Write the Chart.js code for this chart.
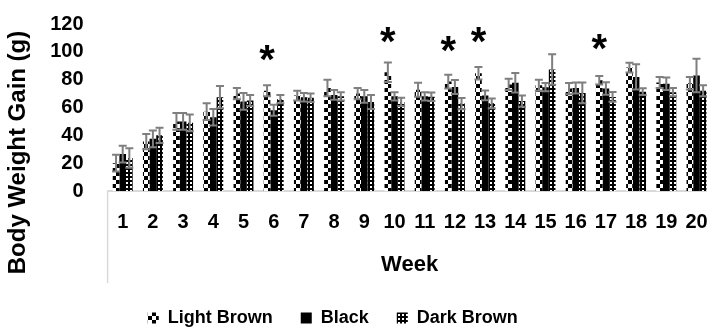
<!DOCTYPE html>
<html><head><meta charset="utf-8">
<script src="https://cdn.jsdelivr.net/npm/chart.js@4.4.1/dist/chart.umd.min.js"></script>
<style>
html,body{margin:0;padding:0;background:#fff;overflow:hidden}
#wrap{width:707px;height:329px;overflow:hidden;position:relative;background:#fff}
canvas{display:block}
</style>
</head><body>
<div id="wrap"><canvas id="c" width="720" height="329"></canvas></div>
<script>
// ---- data ----
const weeks = ['1','2','3','4','5','6','7','8','9','10','11','12','13','14','15','16','17','18','19','20'];
const seriesNames = ['Light Brown','Black','Dark Brown'];
const lightBrown    = [20, 35.5, 50, 57, 70, 72, 68.6, 74, 70, 85.4, 72.7, 78.6, 84.6, 76.6, 76, 73.6, 79.6, 88.7, 78, 77.4];
const lightBrownErr = [6, 5.5, 6, 6, 4, 4, 3.5, 6, 4, 7, 5, 5, 4.5, 4, 4, 4, 3, 3.5, 4, 4.5];
const black         = [26.5, 37.5, 50, 53, 64.4, 58, 67.4, 69, 68, 68, 68, 74.7, 68.7, 77.8, 74.6, 74, 73.6, 82, 77, 83];
const blackErr      = [6, 6, 6, 6, 6, 4, 3, 3.5, 4.5, 3, 3, 5, 3.5, 7, 3, 4, 4.5, 9, 4.5, 12];
const darkBrown     = [23.7, 40, 49, 67.4, 65, 66, 67, 68, 64, 64, 67.7, 62.8, 63, 64.6, 87.3, 70.5, 67.6, 71.4, 71, 72];
const darkBrownErr  = [7, 5.5, 6, 8, 4, 3, 3, 3, 5, 3, 3, 4, 3.5, 4, 11, 7.5, 3.5, 2.5, 3, 4];
// significance asterisks (value level where the * sits, over Light Brown bar)
const sigMarks = [null,null,null,null,null,99.5,null,null,null,113,null,106,113,null,null,null,107.5,null,null,null];
const yTicks = [0,20,40,60,80,100,120];

// ---- patterns ----
function lbPattern(){
  const c=document.createElement('canvas'); c.width=8; c.height=8;
  const g=c.getContext('2d'); g.fillStyle='#fff'; g.fillRect(0,0,8,8);
  g.fillStyle='#000'; g.fillRect(0,0,4,4); g.fillRect(4,4,4,4);
  return g.createPattern(c,'repeat');
}
function dbPattern(){
  const c=document.createElement('canvas'); c.width=4; c.height=4;
  const g=c.getContext('2d'); g.fillStyle='#000'; g.fillRect(0,0,4,4);
  g.fillStyle='#fff'; g.fillRect(2,2,2,2);
  return g.createPattern(c,'repeat');
}

const FONT = 'Liberation Sans';
Chart.defaults.font.family = FONT;
Chart.defaults.color = '#000';

const errorBars = {
  id:'errorBars',
  afterDatasetsDraw(chart, args, opts){
    const ctx=chart.ctx, ys=chart.scales.y;
    ctx.save();
    ctx.strokeStyle=opts.color; ctx.lineWidth=opts.width;
    chart.data.datasets.forEach((ds,di)=>{
      const meta=chart.getDatasetMeta(di);
      if(meta.hidden) return;
      meta.data.forEach((bar,i)=>{
        const v=ds.data[i], e=ds.errors[i];
        const t=ys.getPixelForValue(v+e), b=ys.getPixelForValue(v-e);
        const h=opts.cap/2;
        ctx.beginPath();
        ctx.moveTo(bar.x,t); ctx.lineTo(bar.x,b);
        ctx.moveTo(bar.x-h,t); ctx.lineTo(bar.x+h,t);
        ctx.moveTo(bar.x-h,b); ctx.lineTo(bar.x+h,b);
        ctx.stroke();
      });
    });
    ctx.restore();
  }
};

const asterisks = {
  id:'asterisks',
  afterDatasetsDraw(chart, args, opts){
    const ctx=chart.ctx, ys=chart.scales.y, meta=chart.getDatasetMeta(0);
    ctx.save();
    ctx.fillStyle='#000'; ctx.font='bold '+opts.size+'px '+FONT;
    ctx.textAlign='center'; ctx.textBaseline='alphabetic';
    sigMarks.forEach((m,i)=>{
      if(m==null) return;
      const x=meta.data[i].x, y=ys.getPixelForValue(m);
      ctx.fillText('*', x, y+opts.size*0.52);
    });
    ctx.restore();
  }
};

const legendFit = {
  id:'legendFit',
  beforeLayout(chart, args, opts){
    const lg=chart.legend;
    if(lg && !lg._fitPatched){
      const orig=lg.fit;
      lg.fit=function(){ orig.call(this); this.height=opts.height; };
      lg._fitPatched=true;
    }
  },
  afterLayout(chart, args, opts){
    const lg=chart.legend;
    if(lg){ lg.left += opts.shiftLeft; }
  }
};

const decor = {
  id:'decor',
  afterDraw(chart, args, opts){
    const ctx=chart.ctx, a=chart.chartArea, xs=chart.scales.x;
    ctx.save();
    ctx.strokeStyle='#d9d9d9'; ctx.lineWidth=1.5;
    ctx.beginPath(); ctx.moveTo(a.left, a.bottom); ctx.lineTo(a.left, xs.bottom+2); ctx.stroke();
    ctx.translate(opts.titleX, (a.top + xs.bottom)/2);
    ctx.rotate(-Math.PI/2);
    ctx.fillStyle='#000'; ctx.font='bold '+opts.titleSize+'px '+FONT;
    ctx.textAlign='center'; ctx.textBaseline='middle';
    ctx.fillText('Body Weight Gain (g)', 0, 0);
    ctx.restore();
  }
};

new Chart(document.getElementById('c'), {
  type:'bar',
  data:{
    labels:weeks,
    datasets:[
      {label:seriesNames[0], data:lightBrown, errors:lightBrownErr, backgroundColor:lbPattern(), borderWidth:0},
      {label:seriesNames[1], data:black, errors:blackErr, backgroundColor:'#000', borderWidth:0},
      {label:seriesNames[2], data:darkBrown, errors:darkBrownErr, backgroundColor:dbPattern(), borderWidth:0}
    ]
  },
  options:{
    responsive:false, animation:false, devicePixelRatio:1,
    layout:{padding:{left:0, right:8.4, top:24, bottom:0}},
    datasets:{bar:{categoryPercentage:0.66, barPercentage:1}},
    scales:{
      x:{
        grid:{display:false, drawTicks:false},
        border:{display:true, color:'#d9d9d9', width:2},
        ticks:{autoSkip:false, maxRotation:0, minRotation:0, padding:19, color:'#000', font:{size:20, weight:'bold'}},
        title:{display:true, text:'Week', color:'#000', font:{size:22, weight:'bold'}, padding:{top:0, bottom:3}},
        afterFit(s){ s.height = 90; s.paddingLeft = 0; s.paddingRight = 0; s.paddingTop = 0; s.paddingBottom = 0; }
      },
      y:{
        min:0, max:120,
        afterBuildTicks(s){ s.ticks = yTicks.map(v=>({value:v})); },
        ticks:{autoSkip:false, padding:24, color:'#000', font:{size:20, weight:'bold'}},
        grid:{display:false, drawTicks:false},
        border:{display:false},
        afterFit(s){ s.width = 107.6; s.paddingLeft = 0; s.paddingRight = 0; s.paddingTop = 0; s.paddingBottom = 0; }
      }
    },
    plugins:{
      legend:{position:'bottom', labels:{boxWidth:11, boxHeight:11, padding:28, color:'#000', font:{size:18, weight:'bold'}}},
      legendFit:{height:48, shiftLeft:-46},
      tooltip:{enabled:false},
      errorBars:{color:'#7f7f7f', width:2, cap:8},
      asterisks:{size:40},
      decor:{titleX:18, titleSize:24}
    }
  },
  plugins:[legendFit, errorBars, asterisks, decor]
});
</script>
</body></html>
